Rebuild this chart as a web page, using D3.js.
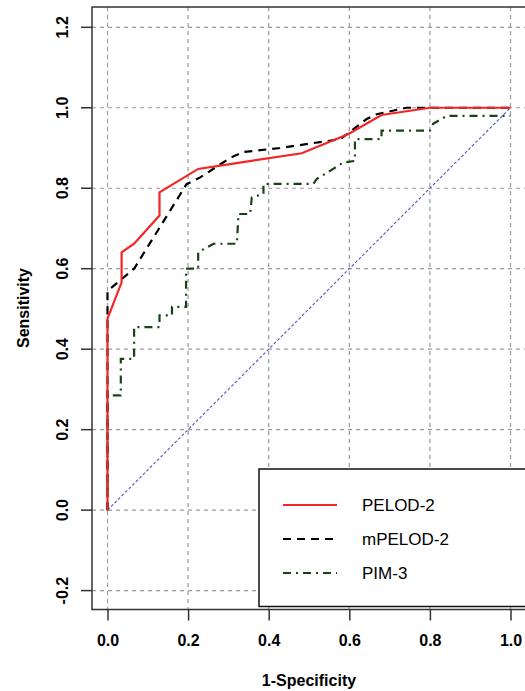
<!DOCTYPE html>
<html>
<head>
<meta charset="utf-8">
<script src="https://cdn.jsdelivr.net/npm/d3@7"></script>
<style>
  body { margin: 0; background: #fff; }
  svg { display: block; font-family: "Liberation Sans", Arial, sans-serif; }
</style>
</head>
<body>
<svg></svg>
<script>
const size = {w: 525, h: 691};
const box = {l: 92, t: 7, r: 526, b: 609.5};

// ROC curves (1-specificity, sensitivity)
const pelodX = [0, 0, 0.035, 0.035, 0.066, 0.129, 0.129, 0.225, 0.304, 0.482, 0.598, 0.680, 0.80, 1.0];
const pelodY = [0, 0.476, 0.566, 0.641, 0.662, 0.732, 0.79, 0.848, 0.86, 0.887, 0.935, 0.982, 1.0, 1.0];

const mpelodX = [0, 0, 0.01, 0.066, 0.196, 0.23, 0.304, 0.337, 0.428, 0.502, 0.577, 0.60, 0.643, 0.668, 0.742, 1.0];
const mpelodY = [0, 0.546, 0.553, 0.60, 0.81, 0.827, 0.875, 0.89, 0.90, 0.911, 0.922, 0.939, 0.972, 0.984, 1.0, 1.0];

const pimX = [0, 0, 0.033, 0.033, 0.066, 0.066, 0.129, 0.129, 0.16, 0.16, 0.195, 0.195, 0.225, 0.225, 0.263, 0.321,
  0.325, 0.354, 0.358, 0.387, 0.387, 0.511, 0.519, 0.56, 0.585, 0.614, 0.614, 0.68, 0.68, 0.80, 0.808, 0.842, 1.0];
const pimY = [0, 0.285, 0.285, 0.376, 0.376, 0.455, 0.455, 0.484, 0.484, 0.505, 0.505, 0.60, 0.60, 0.641, 0.662, 0.662,
  0.736, 0.736, 0.777, 0.786, 0.811, 0.811, 0.823, 0.848, 0.864, 0.868, 0.922, 0.922, 0.943, 0.943, 0.96, 0.98, 0.98];

const xTicks = [0, 0.2, 0.4, 0.6, 0.8, 1.0];
const yTicks = [-0.2, 0, 0.2, 0.4, 0.6, 0.8, 1.0, 1.2];

const series = [
  {name: 'PELOD-2', xs: pelodX, ys: pelodY, color: '#f32525', dash: null, w: 2.2},
  {name: 'mPELOD-2', xs: mpelodX, ys: mpelodY, color: '#000000', dash: '8,6', w: 2.2},
  {name: 'PIM-3', xs: pimX, ys: pimY, color: '#174417', dash: '8,5,2,5', w: 2.2}
];

const svg = d3.select('svg').attr('width', size.w).attr('height', size.h);

const x = d3.scaleLinear().domain([0, 1]).range([107.5, 510.5]);
const y = d3.scaleLinear().domain([-0.2, 1.2]).range([590.6, 27.3]);

// R style labels use a plain hyphen for negatives
const fmt = d => d3.format('.1f')(d).replace('\u2212', '-');

// grid
const gridG = svg.append('g').attr('stroke', '#9a9a9a').attr('stroke-width', 1.2).attr('stroke-dasharray', '4,4');
gridG.selectAll('line.gx').data(xTicks).join('line')
  .attr('x1', d => x(d)).attr('x2', d => x(d))
  .attr('y1', box.t).attr('y2', box.b);
gridG.selectAll('line.gy').data(yTicks).join('line')
  .attr('x1', box.l).attr('x2', box.r)
  .attr('y1', d => y(d)).attr('y2', d => y(d));

// chance line
svg.append('line')
  .attr('x1', x(0)).attr('y1', y(0)).attr('x2', x(1)).attr('y2', y(1))
  .attr('stroke', '#4a5cc0').attr('stroke-width', 1.1).attr('stroke-dasharray', '3,2');

// curves (drawn back to front)
const line = d3.line().x(d => x(d[0])).y(d => y(d[1]));
[series[2], series[1], series[0]].forEach(s => {
  svg.append('path')
    .attr('d', line(d3.zip(s.xs, s.ys)))
    .attr('fill', 'none')
    .attr('stroke', s.color)
    .attr('stroke-width', s.w)
    .attr('stroke-dasharray', s.dash);
});

// axes
const axisColor = '#333';
const xAxis = svg.append('g').attr('transform', `translate(0,${box.b})`)
  .call(d3.axisBottom(x).tickValues(xTicks).tickFormat(fmt).tickSize(11).tickPadding(14));
const yAxis = svg.append('g').attr('transform', `translate(${box.l},0)`)
  .call(d3.axisLeft(y).tickValues(yTicks).tickFormat(fmt).tickSize(11));
[xAxis, yAxis].forEach(a => {
  a.select('.domain').remove();
  a.selectAll('line').attr('stroke', axisColor).attr('stroke-width', 1.5);
  a.selectAll('text').attr('fill', '#000').attr('font-size', 16).attr('font-weight', 'bold')
    .style('font-family', '"Liberation Sans", Arial, sans-serif');
});
yAxis.selectAll('text')
  .attr('x', null).attr('dy', null)
  .attr('text-anchor', 'middle')
  .attr('transform', d => `translate(${68 - box.l},${y(d)}) rotate(-90)`)
  .attr('y', 0);
yAxis.selectAll('.tick').attr('transform', null);
yAxis.selectAll('.tick line').attr('y1', d => y(d)).attr('y2', d => y(d));

// box (left, top, bottom)
svg.append('path')
  .attr('d', `M${box.r},${box.t}H${box.l}V${box.b}H${box.r}`)
  .attr('fill', 'none').attr('stroke', axisColor).attr('stroke-width', 1.5);

// axis titles
svg.append('text').attr('x', 309).attr('y', 686).attr('text-anchor', 'middle')
  .attr('font-size', 16).attr('font-weight', 'bold').text('1-Specificity');
svg.append('text').attr('transform', 'translate(29,308) rotate(-90)').attr('text-anchor', 'middle')
  .attr('font-size', 16).attr('font-weight', 'bold').text('Sensitivity');

// legend
const legG = svg.append('g');
legG.append('rect').attr('x', 259).attr('y', 469).attr('width', 300).attr('height', 137.5)
  .attr('fill', '#fff').attr('stroke', '#111').attr('stroke-width', 1.5);
series.forEach((s, i) => {
  const ly = 505 + i * 34;
  legG.append('line').attr('x1', 283).attr('x2', 337).attr('y1', ly).attr('y2', ly)
    .attr('stroke', s.color).attr('stroke-width', s.w).attr('stroke-dasharray', s.dash);
  legG.append('text').attr('x', 362).attr('y', ly + 6).attr('font-size', 17).text(s.name);
});
</script>
</body>
</html>
